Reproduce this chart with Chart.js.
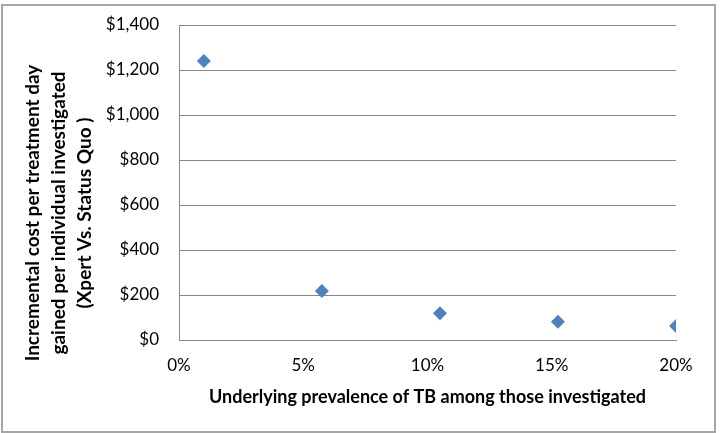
<!DOCTYPE html>
<html>
  <head>
    <meta charset="utf-8">
    <title>Incremental cost vs TB prevalence</title>
    <script src="https://cdn.jsdelivr.net/npm/chart.js@4.4.1/dist/chart.umd.min.js"></script>
    <style>
      body { margin: 0; background: #fff; }
      #wrap { width: 720px; height: 433px; }
    </style>
  </head>
  <body>
    <div id="wrap"><canvas id="canvas" width="720" height="433"></canvas></div>
    <script>
      // prevalence (%) and incremental cost ($)
      var prevalence = [1, 5.75, 10.5, 15.25, 20];
      var costPerDay = [1240, 218, 119, 81, 62];
      var xTicks = [0, 5, 10, 15, 20];
      var yTitle = ['Incremental cost per treatment day',
                    'gained per individual investigated',
                    '(Xpert Vs. Status Quo )'];
      var xTitle = 'Underlying prevalence of TB among those investigated';

      var font = 'Lato, "Liberation Sans", sans-serif';
      var gridGray = '#878787';

      var points = [];
      for (var i = 0; i < prevalence.length; i++) {
        points.push({x: prevalence[i], y: costPerDay[i]});
      }

      // outer frame plus the rotated y title (centred on the whole chart, like Excel)
      var frame = {
        id: 'frame',
        afterDraw: function(chart) {
          var ctx = chart.ctx;
          ctx.save();
          ctx.strokeStyle = '#a6a6a6';
          ctx.lineWidth = 2;
          ctx.strokeRect(2, 5, 713, 427);
          ctx.translate(59, 213);
          ctx.rotate(-Math.PI / 2);
          ctx.fillStyle = '#000';
          ctx.font = 'bold 19px ' + font;
          ctx.textAlign = 'center';
          ctx.textBaseline = 'middle';
          for (var k = 0; k < yTitle.length; k++) {
            ctx.fillText(yTitle[k], 0, (k - 1) * 26);
          }
          ctx.restore();
        }
      };

      var ctx = document.getElementById('canvas').getContext('2d');
      var myChart = new Chart(ctx, {
        type: 'scatter',
        data: {
          datasets: [{
            data: points,
            pointStyle: 'rectRot',
            pointRadius: 7,
            backgroundColor: '#4f81bd',
            borderColor: '#4f81bd',
            borderWidth: 0
          }]
        },
        options: {
          responsive: false,
          animation: false,
          layout: { padding: { left: 0, right: 44, top: 25, bottom: 0 } },
          plugins: { legend: { display: false }, tooltip: { enabled: false } },
          scales: {
            x: {
              type: 'linear',
              min: 0,
              max: 20,
              afterBuildTicks: function(scale) {
                scale.ticks = xTicks.map(function(v) { return {value: v}; });
              },
              afterFit: function(scale) { scale.height = 93; },
              grid: { display: false, drawTicks: false },
              border: { display: true, color: gridGray, width: 1 },
              ticks: {
                padding: 15,
                color: '#000',
                font: { family: font, size: 17 },
                maxRotation: 0,
                callback: function(v) { return v + '%'; }
              },
              title: {
                display: true,
                text: xTitle,
                color: '#000',
                font: { family: font, size: 18, weight: 'bold' },
                padding: { top: 0, bottom: 25 }
              }
            },
            y: {
              min: 0,
              max: 1400,
              ticks: {
                stepSize: 200,
                padding: 0,
                color: '#000',
                font: { family: font, size: 17 },
                callback: function(v) { return '$' + v.toLocaleString('en-US'); }
              },
              afterFit: function(scale) { scale.width = 179; },
              // invisible tick marks keep the labels 20px off the axis
              grid: { color: gridGray, drawTicks: true, tickLength: 20, tickColor: 'rgba(0,0,0,0)', lineWidth: 1 },
              border: { display: true, color: gridGray, width: 1 }
            }
          }
        },
        plugins: [frame]
      });
    </script>
  </body>
</html>
